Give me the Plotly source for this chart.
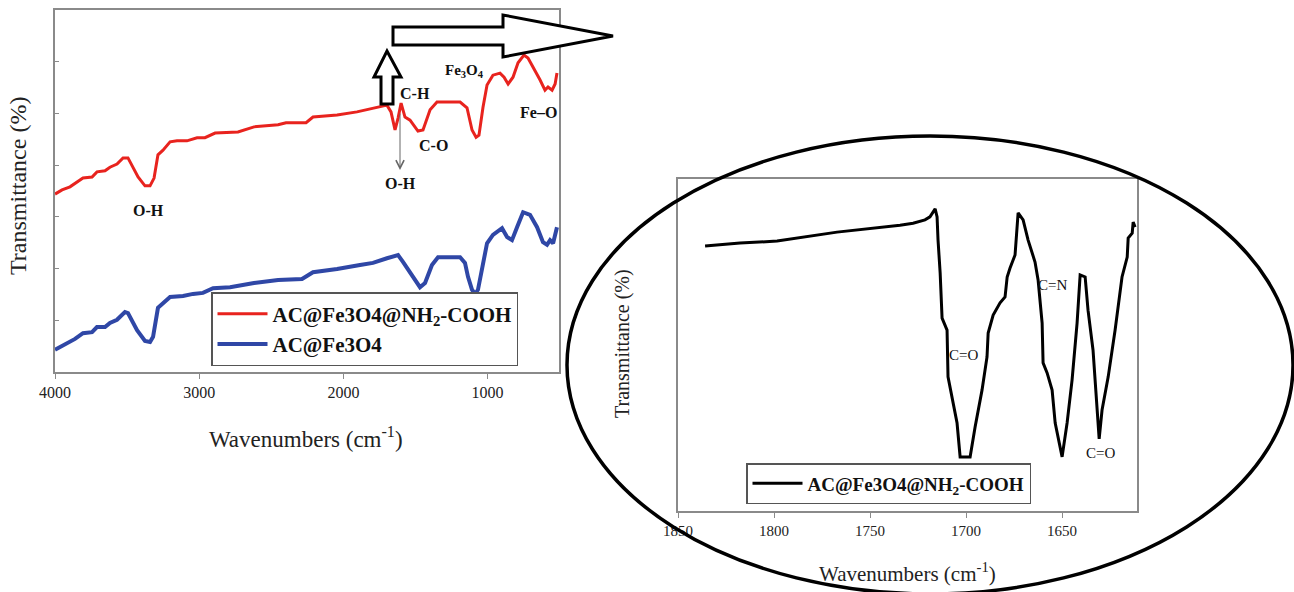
import plotly.graph_objects as go

W, H = 1294, 592

# ---------------- data ----------------
red_wn = [4000, 3951, 3896, 3847, 3806, 3743, 3709, 3653, 3619, 3570, 3528, 3494, 3459, 3424, 3376, 3341,
          3313, 3286, 3251, 3202, 3154, 3085, 3015, 2960, 2890, 2731, 2620, 2453, 2398, 2259, 2211, 2044,
          1906, 1767, 1698, 1670, 1642, 1621, 1600, 1573, 1538, 1483, 1448, 1399, 1351, 1191, 1143, 1108,
          1080, 1060, 1032, 1004, 963, 914, 886, 858, 824, 789, 748, 720, 685, 637, 602, 581, 553, 532, 519]
red_t = [34.4, 35.2, 35.8, 36.7, 37.5, 37.7, 38.7, 38.9, 39.6, 40.2, 41.4, 41.4, 39.6, 37.7, 36.0, 36.0,
         37.5, 42.0, 42.9, 44.5, 44.7, 44.7, 45.3, 45.3, 46.2, 46.4, 47.4, 47.8, 48.2, 48.2, 49.3, 49.7,
         50.3, 51.2, 51.6, 50.3, 46.8, 49.1, 52.0, 49.3, 48.7, 46.6, 46.8, 50.7, 52.2, 52.2, 51.1, 46.8,
         45.4, 45.8, 51.2, 55.5, 57.4, 57.8, 57.0, 55.7, 57.0, 59.8, 61.3, 60.7, 59.0, 56.5, 54.5, 55.1,
         54.5, 55.7, 57.8]

blue_wn = [4000, 3917, 3861, 3806, 3743, 3709, 3653, 3619, 3570, 3515, 3494, 3431, 3376, 3341, 3320, 3286,
           3202, 3112, 3043, 2974, 2904, 2786, 2620, 2453, 2287, 2211, 2044, 1885, 1795, 1698, 1621, 1587,
           1524, 1469, 1434, 1386, 1344, 1191, 1157, 1136, 1108, 1087, 1067, 1039, 1004, 963, 900, 865,
           831, 796, 754, 706, 657, 616, 588, 567, 546, 519]
blue_t = [4.3, 5.6, 6.4, 7.5, 7.7, 8.7, 8.7, 9.5, 10.1, 11.6, 11.4, 8.1, 6.0, 5.8, 6.8, 12.4,
          14.5, 14.7, 15.1, 15.3, 16.2, 16.4, 17.2, 17.8, 18.0, 19.3, 19.9, 20.7, 21.1, 22.0, 22.6, 21.3,
          18.8, 16.4, 17.2, 20.7, 22.2, 22.2, 21.1, 18.4, 15.9, 15.1, 15.9, 19.7, 24.9, 26.5, 27.8, 26.1,
          25.5, 28.0, 30.9, 30.4, 28.0, 25.1, 24.6, 25.5, 24.9, 28.0]

zoom_wn = [1835.9, 1817.7, 1798.4, 1767.2, 1734.4, 1727.6, 1721.4, 1718.8, 1716.1, 1715.1, 1714.6, 1713.5,
           1712.5, 1709.9, 1709.4, 1706.8, 1704.7, 1703.1, 1697.9, 1695.3, 1691.7, 1689.1, 1688.5, 1685.9,
           1682.3, 1679.7, 1678.6, 1677.1, 1674.5, 1672.9, 1670.3, 1667.7, 1664.1, 1662.5, 1660.4, 1659.9,
           1657.8, 1655.2, 1653.6, 1650.0, 1647.4, 1644.8, 1642.2, 1640.6, 1638.0, 1636.5, 1633.9, 1630.7,
           1629.2, 1626.0, 1622.4, 1618.8, 1616.1, 1615.6, 1613.5, 1613.0, 1612.0]
zoom_t = [79.8, 80.7, 81.3, 84.0, 86.1, 86.7, 87.7, 88.6, 91.0, 88.6, 81.6, 71.7,
          58.1, 54.5, 40.4, 32.5, 26.5, 16.3, 16.3, 25.3, 36.4, 46.4, 53.6, 59.0,
          62.7, 64.5, 70.5, 73.2, 77.1, 89.8, 87.7, 81.6, 75.0, 69.6, 56.6, 44.6,
          41.6, 36.4, 26.5, 16.3, 26.5, 39.5, 56.6, 71.1, 70.5, 60.5, 48.5, 21.7,
          30.4, 40.4, 54.5, 70.5, 76.5, 82.2, 83.7, 87.0, 85.5]

left_ticks = [4000, 3000, 2000, 1000]
right_ticks = [1850, 1800, 1750, 1700, 1650]

name_func = "<b>AC@Fe3O4@NH<sub>2</sub>-COOH</b>"
name_fe = "<b>AC@Fe3O4</b>"

SERIF = "Liberation Serif, Times New Roman, serif"


def P(x, y):
    return x / W, 1 - y / H


fig = go.Figure()
fig.add_trace(go.Scatter(x=red_wn, y=red_t, mode="lines", name=name_func,
                         line=dict(color="#e8231e", width=3), xaxis="x", yaxis="y", legend="legend"))
fig.add_trace(go.Scatter(x=blue_wn, y=blue_t, mode="lines", name=name_fe,
                         line=dict(color="#2f47a6", width=4), xaxis="x", yaxis="y", legend="legend"))
fig.add_trace(go.Scatter(x=zoom_wn, y=zoom_t, mode="lines", name=name_func,
                         line=dict(color="black", width=3), xaxis="x2", yaxis="y2", legend="legend2"))

axis_common = dict(showline=True, mirror=True, linecolor="#8a8a8a", linewidth=1.5,
                   showgrid=False, zeroline=False, automargin=False)

fig.update_layout(
    width=W, height=H, margin=dict(l=0, r=0, t=0, b=0, autoexpand=False),
    plot_bgcolor="white", paper_bgcolor="white",
    xaxis=dict(domain=[55 / W, 559 / W], range=[4000, 505], tickvals=left_ticks,
               ticks="outside", ticklen=5, tickcolor="#8a8a8a", anchor="y",
               tickfont=dict(family=SERIF, size=16, color="#222"), **axis_common),
    yaxis=dict(domain=[1 - 372 / H, 1 - 10 / H], range=[0, 70], dtick=10,
               ticks="inside", ticklen=4, tickcolor="#8a8a8a", showticklabels=False,
               anchor="x", **axis_common),
    xaxis2=dict(domain=[678 / W, 1137 / W], range=[1850, 1611], tickvals=right_ticks,
                ticks="outside", ticklen=5, tickcolor="#8a8a8a", anchor="y2",
                tickfont=dict(family=SERIF, size=15, color="#222"), **axis_common),
    yaxis2=dict(domain=[1 - 511 / H, 1 - 179 / H], range=[0, 100], showticklabels=False,
                ticks="", anchor="x2", **axis_common),
    legend=dict(x=211 / W, y=1 - 292 / H, xanchor="left", yanchor="top",
                bordercolor="#555", borderwidth=1.5, bgcolor="white",
                font=dict(family=SERIF, size=21, color="#111"), itemwidth=50),
    legend2=dict(x=746 / W, y=1 - 463 / H, xanchor="left", yanchor="top",
                 bordercolor="#555", borderwidth=1.5, bgcolor="white",
                 font=dict(family=SERIF, size=19, color="#111"), itemwidth=50),
)

ann = []


def text(x, y, s, size=14, bold=True, angle=0, color="#111"):
    xx, yy = P(x, y)
    ann.append(dict(x=xx, y=yy, xref="paper", yref="paper", text=("<b>%s</b>" % s) if bold else s,
                    showarrow=False, textangle=angle, xanchor="center", yanchor="middle",
                    font=dict(family=SERIF, size=size, color=color)))


# axis titles
text(18, 186, "Transmittance (%)", size=24, bold=False, angle=-90, color="#222")
text(306, 437, "Wavenumbers (cm<sup>-1</sup>)", size=23, bold=False, color="#222")
text(623, 344, "Transmittance (%)", size=20, bold=False, angle=-90, color="#222")
text(907, 572, "Wavenumbers (cm<sup>-1</sup>)", size=21, bold=False, color="#222")

# peak labels, left
text(148, 210, "O-H", 16)
text(415, 93, "C-H", 16)
text(433, 145, "C-O", 16)
text(400, 184, "O-H", 16)
text(464, 71, "Fe<sub>3</sub>O<sub>4</sub>", 15)
text(538, 112, "Fe–O", 16)
# peak labels, right
text(963, 355, "C=O", 15, bold=False)
text(1052, 285, "C=N", 15, bold=False)
text(1100, 453, "C=O", 15, bold=False)

# thin down arrow
hx, hy = P(400, 170)
ann.append(dict(x=hx, y=hy, xref="paper", yref="paper", ax=0, ay=-58, text="",
                showarrow=True, arrowhead=5, arrowsize=1.6, arrowwidth=1, arrowcolor="#666"))

fig.update_layout(annotations=ann)


def path(pts):
    s = ""
    for i, (x, y) in enumerate(pts):
        xx, yy = P(x, y)
        s += ("M" if i == 0 else "L") + "%.5f,%.5f " % (xx, yy)
    return s + "Z"


shapes = []
# big hollow arrow to the right
shapes.append(dict(type="path", xref="paper", yref="paper",
                   path=path([(393, 27), (503, 27), (503, 15), (613, 36), (503, 57), (503, 45), (393, 45)]),
                   line=dict(color="black", width=3), fillcolor="white"))
# up arrow
shapes.append(dict(type="path", xref="paper", yref="paper",
                   path=path([(381, 104), (381, 77), (374, 77), (387, 51), (401, 77), (393, 77), (393, 104)]),
                   line=dict(color="black", width=3), fillcolor="white"))
# ellipse
x0, y0 = P(567, 594)
x1, y1 = P(1293, 136)
shapes.append(dict(type="circle", xref="paper", yref="paper", x0=x0, y0=y0, x1=x1, y1=y1,
                   line=dict(color="black", width=3.5)))
fig.update_layout(shapes=shapes)

fig.write_html("out.html", config={"displayModeBar": False},
               post_script="document.body.style.margin='0';document.body.style.overflow='hidden';")
